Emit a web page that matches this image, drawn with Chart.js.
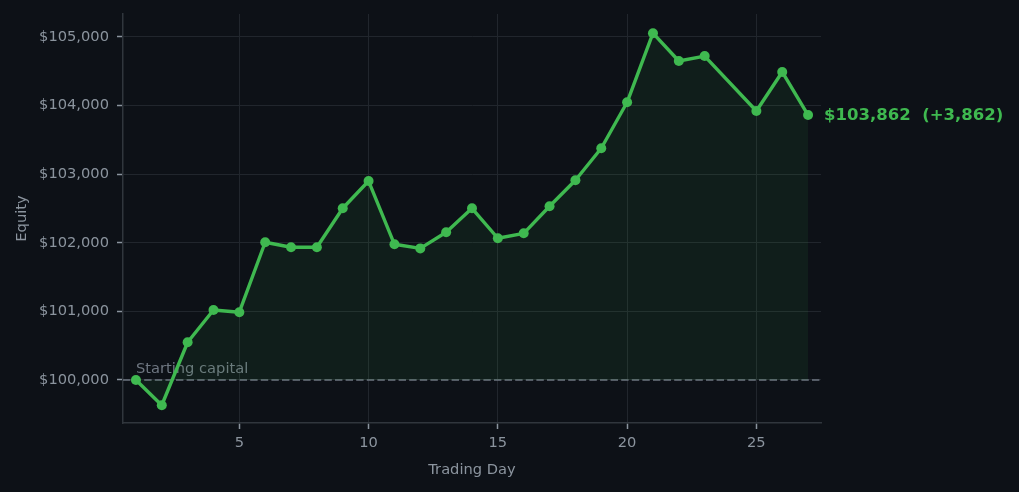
<!DOCTYPE html>
<html>
<head>
<meta charset="utf-8">
<script src="https://cdn.jsdelivr.net/npm/chart.js@4/dist/chart.umd.min.js"></script>
<style>
  html, body { margin: 0; padding: 0; background: #0d1117; }
  #wrap { width: 1019px; height: 492px; }
</style>
</head>
<body>
<div id="wrap"><canvas id="equity" width="1019" height="492"></canvas></div>
<script>
// Daily equity readings (day 24 has no reading)
const days = [1, 2, 3, 4, 5, 6, 7, 8, 9, 10, 11, 12, 13, 14, 15, 16, 17, 18, 19, 20, 21, 22, 23, 25, 26, 27];
const equity = [
    100000, 99632, 100550, 101020, 100988, 102008, 101935, 101935, 102503, 102900,
    101978, 101918, 102153, 102503, 102066, 102138, 102532, 102911, 103378, 104048,
    105055, 104650, 104722, 103921, 104490, 103862,
];
const startingCapital = 100000;
const xTicks = [5, 10, 15, 20, 25];
const yTicks = [100000, 101000, 102000, 103000, 104000, 105000];

const GREEN = "#3fb950";
const TEXT = "#8b949e";
const MUTED = "#6e7681";
const GRID = "#21262d";
const SPINE = "#30363d";
const FONT = '"DejaVu Sans", sans-serif';
const SIZE = 14.67;

const money = (v) => "$" + Math.round(v).toLocaleString("en-US");

// baseline dashes, "Starting capital" note and the end-of-series label
const overlay = {
    id: "overlay",
    beforeDatasetsDraw(chart) {
        const { ctx, chartArea, scales } = chart;
        const yb = scales.y.getPixelForValue(startingCapital);
        ctx.save();
        ctx.strokeStyle = MUTED;
        ctx.lineWidth = 1.5;
        ctx.setLineDash([7.4, 3.2]);
        ctx.beginPath();
        ctx.moveTo(chartArea.left, yb);
        ctx.lineTo(chartArea.right, yb);
        ctx.stroke();
        ctx.setLineDash([]);
        ctx.font = SIZE + "px " + FONT;
        ctx.fillStyle = MUTED;
        ctx.textBaseline = "alphabetic";
        ctx.fillText("Starting capital", scales.x.getPixelForValue(days[0]), yb - 7);
        ctx.restore();
    },
    afterDatasetsDraw(chart) {
        const { ctx, scales } = chart;
        const last = equity[equity.length - 1];
        const px = scales.x.getPixelForValue(days[days.length - 1]);
        const py = scales.y.getPixelForValue(last);
        const diff = last - startingCapital;
        const label = money(last) + "  (" + (diff >= 0 ? "+" : "-") + Math.abs(diff).toLocaleString("en-US") + ")";
        ctx.save();
        ctx.font = "bold 16.5px " + FONT;
        ctx.fillStyle = GREEN;
        ctx.textBaseline = "alphabetic";
        ctx.fillText(label, px + 16, py + 5);
        ctx.restore();
    },
};

new Chart(document.getElementById("equity"), {
    type: "line",
    data: {
        datasets: [
            {
                data: days.map((d, i) => ({ x: d, y: equity[i] })),
                borderColor: GREEN,
                borderWidth: 3.4,
                borderJoinStyle: "round",
                borderCapStyle: "round",
                pointRadius: 5,
                pointBorderWidth: 0,
                pointBackgroundColor: GREEN,
                backgroundColor: "rgba(63, 185, 80, 0.08)",
                fill: { value: startingCapital },
                tension: 0,
                clip: false,
            },
        ],
    },
    options: {
        responsive: false,
        animation: false,
        devicePixelRatio: 1,
        layout: { padding: { top: 14, right: 198, left: 0, bottom: 0 } },
        plugins: {
            legend: { display: false },
            tooltip: { enabled: false },
        },
        scales: {
            x: {
                type: "linear",
                min: 0.5,
                max: 27.5,
                afterBuildTicks: (s) => { s.ticks = xTicks.map((v) => ({ value: v })); },
                afterFit: (s) => { s.height = 69; s.paddingLeft = 0; s.paddingRight = 0; },
                grid: { color: GRID, lineWidth: 1, tickLength: 6, tickColor: TEXT, tickWidth: 1.5 },
                border: { color: SPINE, width: 1.5 },
                ticks: { color: TEXT, font: { family: FONT, size: SIZE }, padding: 5, maxRotation: 0 },
                title: {
                    display: true,
                    text: "Trading Day",
                    color: TEXT,
                    font: { family: FONT, size: SIZE },
                    padding: { top: 0, bottom: 13 },
                },
            },
            y: {
                min: 99373,
                max: 105335,
                afterBuildTicks: (s) => { s.ticks = yTicks.map((v) => ({ value: v })); },
                afterFit: (s) => { s.width = 123; s.paddingTop = 0; s.paddingBottom = 0; },
                grid: { color: GRID, lineWidth: 1, tickLength: 6, tickColor: TEXT, tickWidth: 1.5 },
                border: { color: SPINE, width: 1.5 },
                ticks: { color: TEXT, font: { family: FONT, size: SIZE }, padding: 8, callback: (v) => money(v) },
                title: {
                    display: true,
                    text: "Equity",
                    color: TEXT,
                    font: { family: FONT, size: SIZE },
                    padding: { top: 13, bottom: 0 },
                },
            },
        },
    },
    plugins: [overlay],
});
</script>
</body>
</html>
